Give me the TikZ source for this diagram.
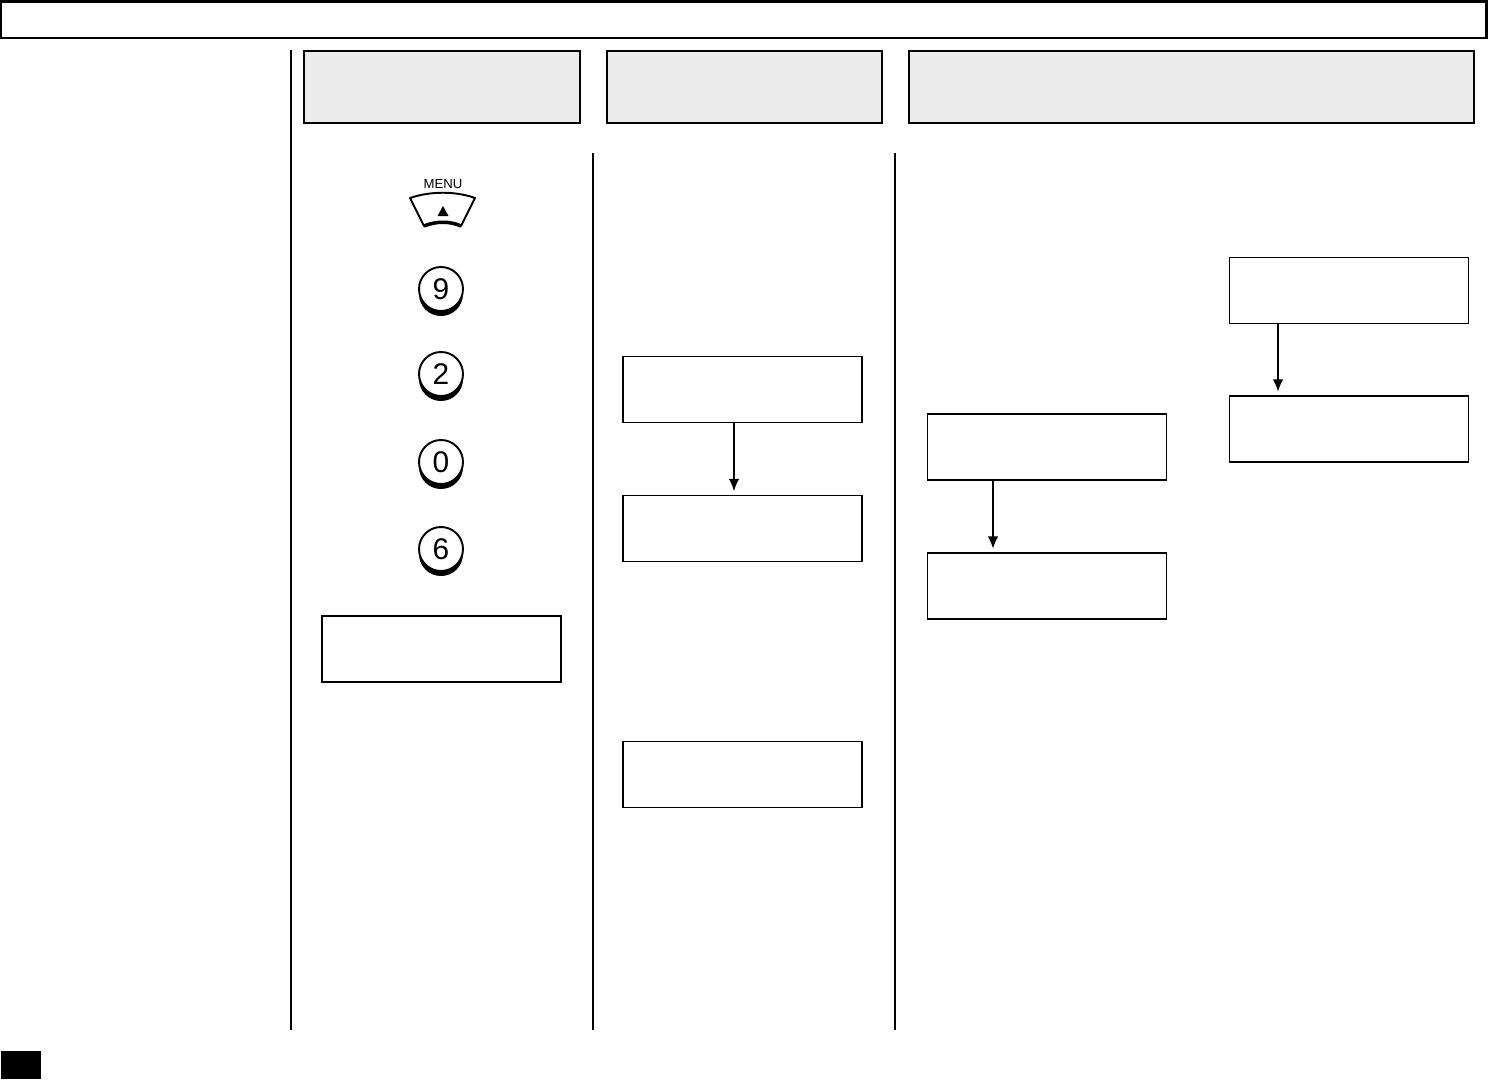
\documentclass[tikz,border=0pt]{standalone}
\usepackage{fontspec}
\setmainfont{Liberation Sans}
\usepackage{xcolor}
\usepackage{tikz}
\usetikzlibrary{arrows.meta}

\definecolor{hdrgray}{HTML}{EBEBEB}

\begin{document}
\begin{tikzpicture}[
        x=0.02cm, y=-0.02cm,
        hdr/.style={draw=black, line width=1pt, fill=hdrgray, inner sep=0pt,
            minimum height=1.44cm},
        lcd/.style={draw=black, line width=1pt, fill=white, inner sep=0pt,
            minimum width=4.78cm, minimum height=1.32cm},
        btn/.style={circle, draw=black, line width=1.1pt, fill=white, inner sep=0pt,
            minimum size=0.88cm, font=\fontsize{17}{17}\selectfont},
        sep/.style={black, line width=0.85pt},
        arr/.style={-{Latex[length=7pt, width=6pt]}, line width=0.8pt, shorten >=2pt}
    ]
    \useasboundingbox (0,0) rectangle (1488,1079);
    \draw[line width=1.7pt] (1,1.5) rectangle (1486.5,38);
    \fill (1,1051) rectangle (41,1079);
    % column rules
    \draw[sep] (291,50) -- (291,1030);
    \draw[sep] (593,153) -- (593,1030);
    \draw[sep] (895,153) -- (895,1030);
    % headings
    \node[hdr, minimum width=5.52cm] (hdrkeys) at (442,87) {};
    \node[hdr, minimum width=5.50cm] (hdrdisp) at (744.5,87) {};
    \node[hdr, minimum width=11.30cm] (hdrnote) at (1191.5,87) {};
    % menu key
    \node[font=\fontsize{7.5}{7.5}\selectfont] (menulab) at (443,184) {MENU};
    \draw[line width=1.1pt, line join=round] (410,198) .. controls (430,191) and (456,191) .. (475,198)
        -- (461,226) .. controls (450,221) and (436,221) .. (424,226) -- cycle;
    \draw[line width=2pt] (461,226) .. controls (450,221) and (436,221) .. (424,226);
    \fill (443,206) -- (448.5,216) -- (437.5,216) -- cycle;
    % number keys
    \foreach \d/\yy in {9/289, 2/374, 0/462, 6/549} {
        \fill (441,\yy+5) circle (0.44cm);
        \node[btn] (key\d) at (441,\yy) {\d};
    }
    % displays
    \node[lcd] (disp1) at (441.5,649) {};
    \node[lcd] (disp2) at (742.5,389.5) {};
    \node[lcd] (disp3) at (742.5,528.5) {};
    \node[lcd] (disp4) at (742.5,774.5) {};
    \node[lcd] (disp5) at (1047,447) {};
    \node[lcd] (disp6) at (1047,586) {};
    \node[lcd] (disp7) at (1349,290.5) {};
    \node[lcd] (disp8) at (1349,429) {};
    \draw[arr] ([xshift=-0.17cm]disp2.south) -- ([xshift=-0.17cm]disp3.north);
    \draw[arr] ([xshift=-1.08cm]disp5.south) -- ([xshift=-1.08cm]disp6.north);
    \draw[arr] ([xshift=-1.42cm]disp7.south) -- ([xshift=-1.42cm]disp8.north);
\end{tikzpicture}
\end{document}
